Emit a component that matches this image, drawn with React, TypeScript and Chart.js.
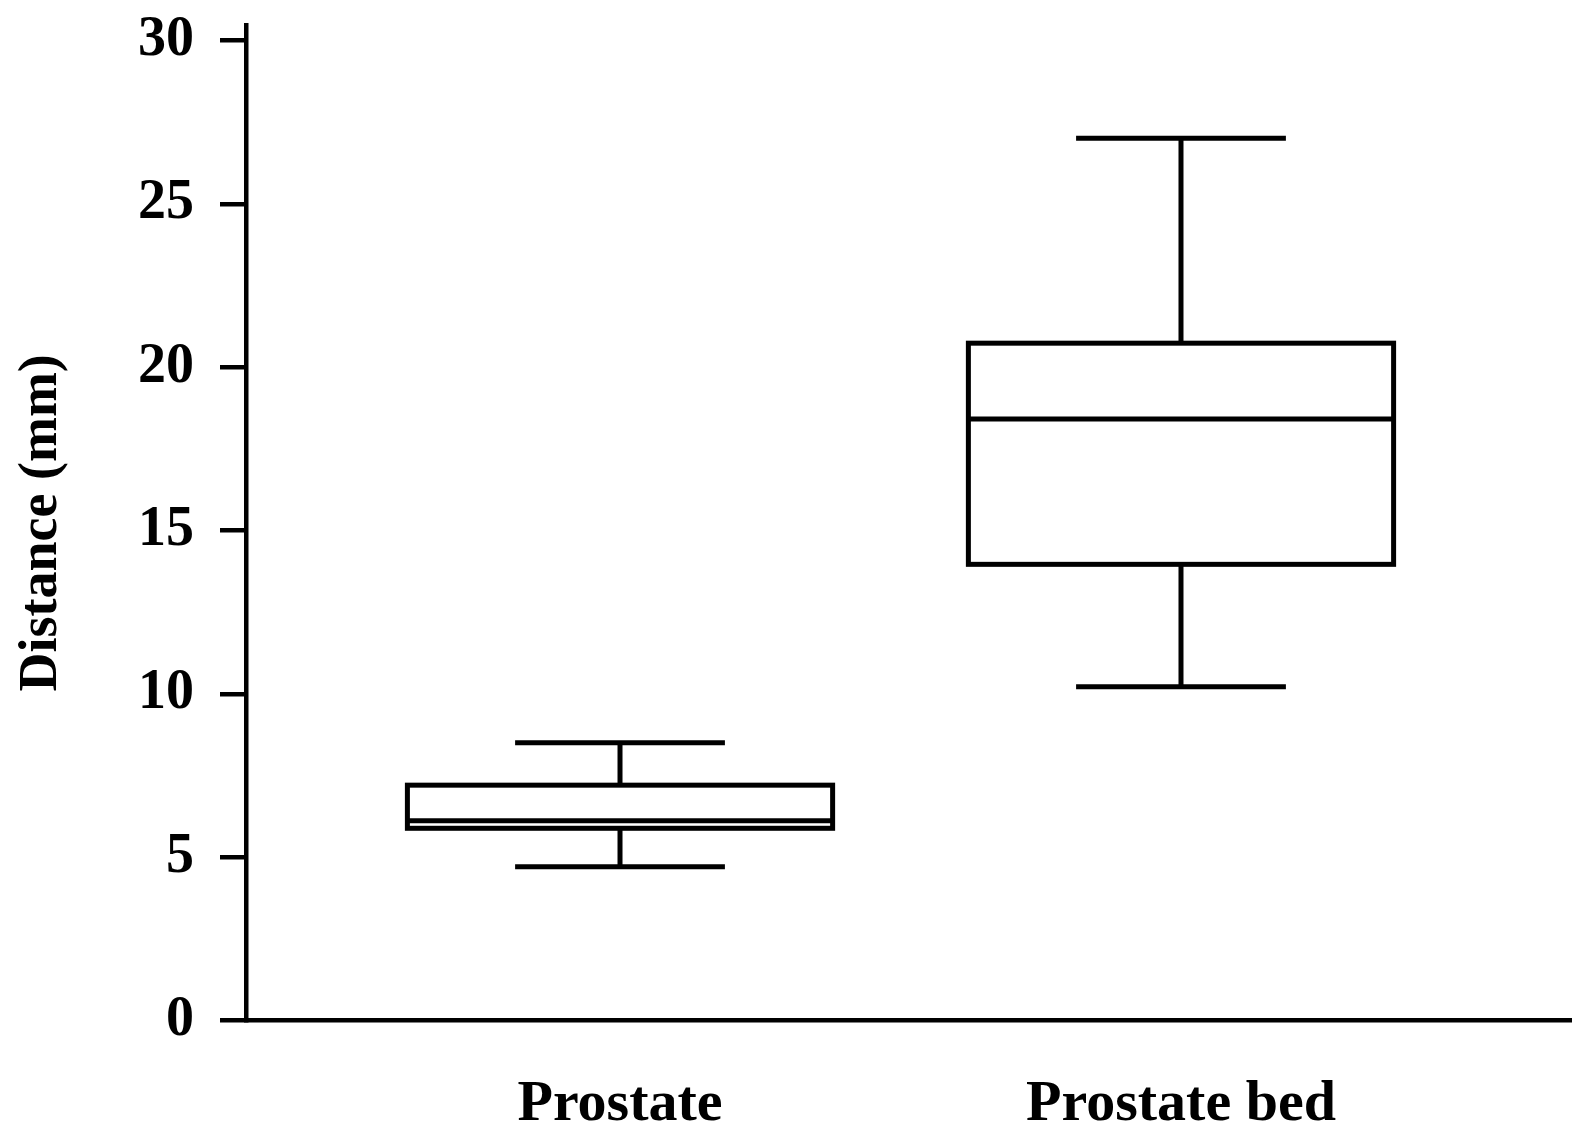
import React, { useEffect, useRef } from 'react';
import { Chart, registerables } from 'chart.js';

Chart.register(...registerables);

const categories = ['Prostate', 'Prostate bed'];
const whiskerLow = [4.71, 10.22];
const q1Values = [5.89, 13.97];
const medianValues = [6.12, 18.42];
const q3Values = [7.21, 20.74];
const whiskerHigh = [8.51, 27.01];
const yTickValues = [0, 5, 10, 15, 20, 25, 30];

const BOX_HALF = 0.379;
const CAP_HALF = 0.187;
const LINE_W = 5;
const AXIS_W = 4.5;
const FONT_FAMILY = '"Liberation Serif", "Times New Roman", serif';

const boxPlugin = {
  id: 'boxPlot',
  afterDatasetsDraw(chart: any) {
    const { ctx, scales } = chart;
    const x = scales.x;
    const y = scales.y;
    ctx.save();
    ctx.strokeStyle = '#000';
    ctx.lineWidth = LINE_W;
    ctx.lineCap = 'butt';
    categories.forEach((_, i) => {
      const xc = x.getPixelForValue(i);
      const xl = x.getPixelForValue(i - BOX_HALF);
      const xr = x.getPixelForValue(i + BOX_HALF);
      const cl = x.getPixelForValue(i - CAP_HALF);
      const cr = x.getPixelForValue(i + CAP_HALF);
      const yLo = y.getPixelForValue(whiskerLow[i]);
      const yQ1 = y.getPixelForValue(q1Values[i]);
      const yMed = y.getPixelForValue(medianValues[i]);
      const yQ3 = y.getPixelForValue(q3Values[i]);
      const yHi = y.getPixelForValue(whiskerHigh[i]);
      ctx.beginPath();
      ctx.moveTo(xc, yQ3);
      ctx.lineTo(xc, yHi);
      ctx.moveTo(cl, yHi);
      ctx.lineTo(cr, yHi);
      ctx.moveTo(xc, yQ1);
      ctx.lineTo(xc, yLo);
      ctx.moveTo(cl, yLo);
      ctx.lineTo(cr, yLo);
      ctx.stroke();
      ctx.fillStyle = '#fff';
      ctx.fillRect(xl, yQ3, xr - xl, yQ1 - yQ3);
      ctx.strokeRect(xl, yQ3, xr - xl, yQ1 - yQ3);
      ctx.beginPath();
      ctx.moveTo(xl, yMed);
      ctx.lineTo(xr, yMed);
      ctx.stroke();
    });
    ctx.restore();
  },
};

export default function App() {
  const canvasRef = useRef<HTMLCanvasElement | null>(null);

  useEffect(() => {
    if (!canvasRef.current) return;
    const chart = new Chart(canvasRef.current, {
      type: 'scatter',
      data: {
        datasets: [
          {
            data: categories.map((_, i) => ({ x: i, y: medianValues[i] })),
            pointRadius: 0,
            showLine: false,
          },
        ],
      },
      options: {
        responsive: false,
        animation: false,
        layout: { padding: { top: 25, left: 0, right: 0, bottom: 0 } },
        plugins: {
          legend: { display: false },
          tooltip: { enabled: false },
        },
        scales: {
          x: {
            type: 'linear',
            min: -0.6667,
            max: 1.697,
            afterBuildTicks: (s: any) => {
              s.ticks = categories.map((_, i) => ({ value: i }));
            },
            afterFit: (s: any) => {
              s.height = 102.3;
              s.paddingLeft = 0;
              s.paddingRight = 0;
            },
            grid: {
              display: true,
              drawOnChartArea: false,
              drawTicks: false,
              color: 'rgba(0,0,0,0)',
            },
            border: { display: true, color: '#000', width: AXIS_W },
            ticks: {
              autoSkip: false,
              maxRotation: 0,
              padding: 50,
              color: '#000',
              font: { family: FONT_FAMILY, size: 58, weight: 'bold' },
              callback: (v: any) => categories[Math.round(Number(v))] ?? '',
            },
          },
          y: {
            type: 'linear',
            min: 0,
            max: 30.48,
            afterBuildTicks: (s: any) => {
              s.ticks = yTickValues.map((v) => ({ value: v }));
            },
            afterFit: (s: any) => {
              s.width = 246;
              s.paddingTop = 0;
              s.paddingBottom = 0;
            },
            grid: {
              display: true,
              drawOnChartArea: false,
              drawTicks: true,
              tickLength: 26,
              lineWidth: AXIS_W,
              color: '#000',
            },
            border: { display: true, color: '#000', width: AXIS_W },
            ticks: {
              padding: 26,
              color: '#000',
              font: { family: FONT_FAMILY, size: 56, weight: 'bold' },
            },
            title: {
              display: true,
              text: 'Distance (mm)',
              color: '#000',
              padding: { top: 10, bottom: 0 },
              font: { family: FONT_FAMILY, size: 54, weight: 'bold' },
            },
          },
        },
      },
      plugins: [boxPlugin],
    });
    return () => chart.destroy();
  }, []);

  return (
    <div style={{ position: 'absolute', left: 0, top: 0, width: 1572, height: 1123, background: '#fff' }}>
      <canvas ref={canvasRef} width={1572} height={1123} style={{ display: 'block' }} />
    </div>
  );
}
